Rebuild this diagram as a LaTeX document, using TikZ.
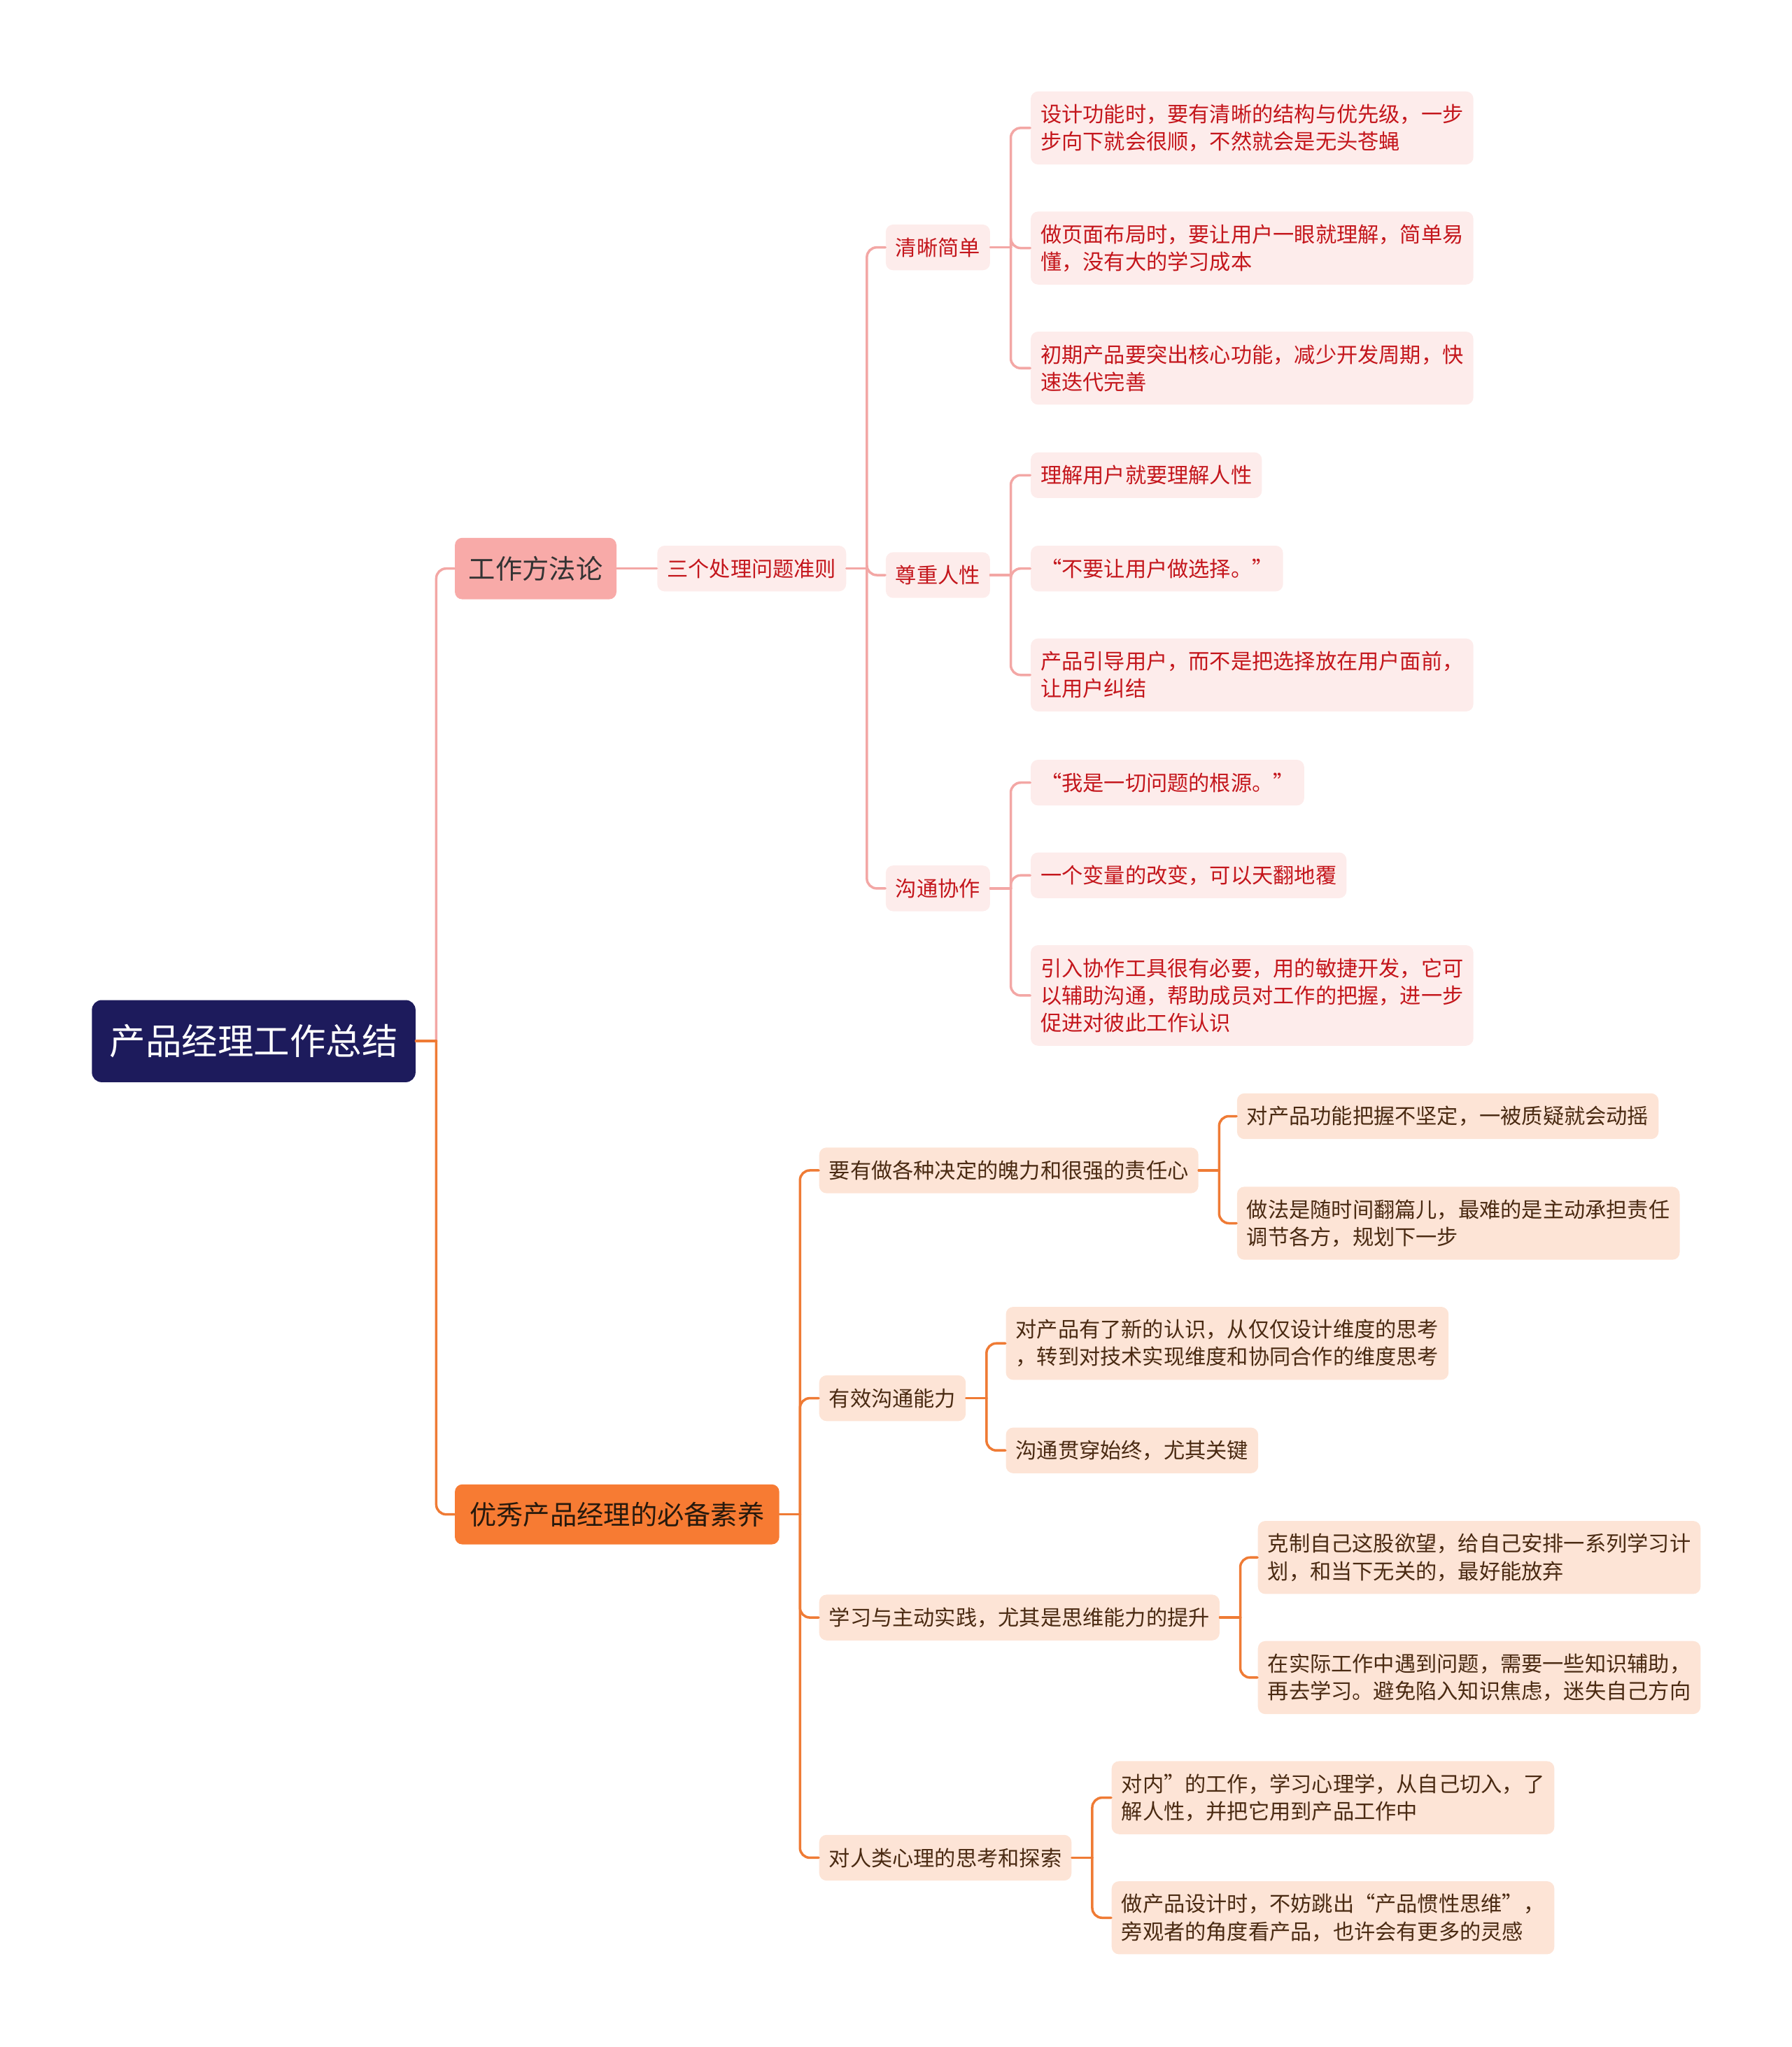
\documentclass[tikz,border=0pt]{standalone}
\usepackage{fontspec}
\setmainfont{Noto Sans CJK SC}
\usepackage{xcolor}
\usetikzlibrary{positioning}

\definecolor{rootblue}{HTML}{1D1B5C}
\definecolor{methodpink}{HTML}{F8AAA8}
\definecolor{qualorange}{HTML}{F77B33}
\definecolor{pinkfill}{HTML}{FDECEB}
\definecolor{peachfill}{HTML}{FDE4D6}
\definecolor{pinktext}{HTML}{C4161C}
\definecolor{browntext}{HTML}{4A2A12}
\definecolor{pinkline}{HTML}{F3A7A5}
\definecolor{orangeline}{HTML}{EF7B35}

\begin{document}
\begin{tikzpicture}[x=0.018659cm, y=-0.018659cm,
    box/.style={anchor=west, rounded corners=3pt, inner xsep=4pt, inner ysep=0pt, align=left,
                font=\fontsize{8.6}{11.15}\selectfont, minimum height=18.6pt},
    two/.style={minimum height=29.7pt}, three/.style={minimum height=40.9pt},
    pinkbox/.style={box, fill=pinkfill, text=pinktext},
    peachbox/.style={box, fill=peachfill, text=browntext},
    pinkwire/.style={draw=pinkline, line width=1pt, line cap=round},
    orangewire/.style={draw=orangeline, line width=1pt, line cap=round}]
    \useasboundingbox (0,0) rectangle (1372,1568);

    % root and the two main branches
    \node[anchor=west, fill=rootblue, text=white, rounded corners=4pt, minimum height=33.4pt,
          inner xsep=7.2pt, font=\fontsize{14.65}{17}\selectfont] (root) at (70,797.5) {产品经理工作总结};
    \node[anchor=west, fill=methodpink, text=black!80, rounded corners=3pt, minimum height=25pt,
          inner xsep=5.6pt, font=\fontsize{10.9}{13}\selectfont] (method) at (348,435.5) {工作方法论};
    \node[anchor=west, fill=qualorange, text=black!80!brown, rounded corners=3pt, minimum height=24.4pt,
          inner xsep=6pt, font=\fontsize{10.9}{13}\selectfont] (quality) at (348,1160) {优秀产品经理的必备素养};

    % work method
    \node[pinkbox] (rules) at (503,435.5) {三个处理问题准则};
    \node[pinkbox] (clear) at (678,189.5) {清晰简单};
    \node[pinkbox] (respect) at (678,440.5) {尊重人性};
    \node[pinkbox] (collab) at (678,680.5) {沟通协作};

    \node[pinkbox, two] (c1) at (789,98) {设计功能时，要有清晰的结构与优先级，一步\\步向下就会很顺，不然就会是无头苍蝇};
    \node[pinkbox, two] (c2) at (789,190) {做页面布局时，要让用户一眼就理解，简单易\\懂，没有大的学习成本};
    \node[pinkbox, two] (c3) at (789,282) {初期产品要突出核心功能，减少开发周期，快\\速迭代完善};

    \node[pinkbox] (r1) at (789,364) {理解用户就要理解人性};
    \node[pinkbox] (r2) at (789,435.5) {“不要让用户做选择。”};
    \node[pinkbox, two] (r3) at (789,517) {产品引导用户，而不是把选择放在用户面前，\\让用户纠结};

    \node[pinkbox] (k1) at (789,599.5) {“我是一切问题的根源。”};
    \node[pinkbox] (k2) at (789,670.5) {一个变量的改变，可以天翻地覆};
    \node[pinkbox, three] (k3) at (789,762.5) {引入协作工具很有必要，用的敏捷开发，它可\\以辅助沟通，帮助成员对工作的把握，进一步\\促进对彼此工作认识};

    % qualities
    \node[peachbox] (decide) at (627,896.5) {要有做各种决定的魄力和很强的责任心};
    \node[peachbox] (d1) at (947,855) {对产品功能把握不坚定，一被质疑就会动摇};
    \node[peachbox, two] (d2) at (947,937) {做法是随时间翻篇儿，最难的是主动承担责任\\调节各方，规划下一步};

    \node[peachbox] (comm) at (627,1071) {有效沟通能力};
    \node[peachbox, two] (m1) at (770,1029) {对产品有了新的认识，从仅仅设计维度的思考\\，转到对技术实现维度和协同合作的维度思考};
    \node[peachbox] (m2) at (770,1111) {沟通贯穿始终，尤其关键};

    \node[peachbox] (learn) at (627,1239) {学习与主动实践，尤其是思维能力的提升};
    \node[peachbox, two] (l1) at (963,1193) {克制自己这股欲望，给自己安排一系列学习计\\划，和当下无关的，最好能放弃};
    \node[peachbox, two] (l2) at (963,1285) {在实际工作中遇到问题，需要一些知识辅助，\\再去学习。避免陷入知识焦虑，迷失自己方向};

    \node[peachbox] (psych) at (627,1423) {对人类心理的思考和探索};
    \node[peachbox, two] (p1) at (851,1377) {对内”的工作，学习心理学，从自己切入，了\\解人性，并把它用到产品工作中};
    \node[peachbox, two] (p2) at (851,1469) {做产品设计时，不妨跳出“产品惯性思维”，\\旁观者的角度看产品，也许会有更多的灵感};

    % connectors
    \draw[pinkwire] (method) -- (rules);
    \foreach \p/\c in {root/method, rules/clear, rules/respect, rules/collab,
                       clear/c1, clear/c2, clear/c3, respect/r1, respect/r2, respect/r3,
                       collab/k1, collab/k2, collab/k3} {
        \draw[pinkwire] (\p.east) -- ++(15.5,0) coordinate (j);
        \draw[pinkwire, rounded corners=4pt] (j) |- (\c.west);
    }
    \foreach \p/\c in {root/quality, quality/decide, quality/comm, quality/learn, quality/psych,
                       decide/d1, decide/d2, comm/m1, comm/m2, learn/l1, learn/l2, psych/p1, psych/p2} {
        \draw[orangewire] (\p.east) -- ++(15.5,0) coordinate (j);
        \draw[orangewire, rounded corners=4pt] (j) |- (\c.west);
    }
\end{tikzpicture}
\end{document}
